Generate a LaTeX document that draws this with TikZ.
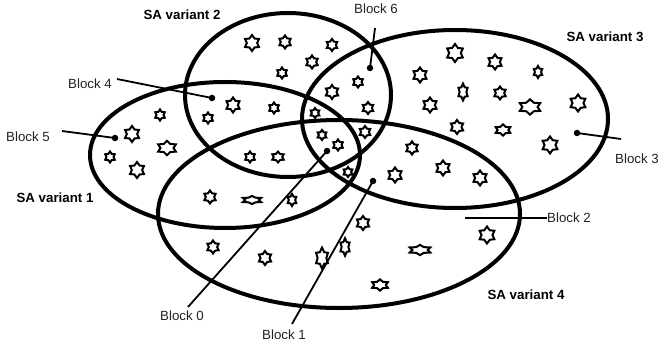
\documentclass[tikz,border=0pt]{standalone}
\usepackage{fontspec}
\setmainfont{Liberation Sans}
\usepackage{tikz}
\usetikzlibrary{shapes.geometric}
\definecolor{InkBlack}{HTML}{000000}
\definecolor{LabelGray}{HTML}{222222}
\tikzset{
  % Outline styles
  setline/.style={draw=InkBlack, line width=4pt},
  leaderline/.style={draw=InkBlack, line width=1.8pt},
  % Node styles
  hexstar/.style={star, star points=6, star point ratio=1.55, draw=InkBlack, line width=2pt, inner sep=0pt, transform shape},
  blockdot/.style={circle, fill=InkBlack, inner sep=0pt, minimum size=6.5pt},
  blocklabel/.style={font=\fontsize{13.3}{16}\selectfont, text=LabelGray, inner sep=0pt},
  setlabel/.style={font=\fontsize{13.3}{16}\selectfont\bfseries, text=InkBlack, inner sep=0pt}
}

\begin{document}
\begin{tikzpicture}[x=1pt, y=-1pt]
  \useasboundingbox (0,0) rectangle (660,347);

  % The four variant sets
  \draw[setline] (225,155) ellipse (135pt and 73pt);
  \draw[setline] (288,95) ellipse (103pt and 82pt);
  \draw[setline] (455,119) ellipse (153pt and 89pt);
  \draw[setline] (339,214) ellipse (181pt and 94pt);

  % Stars (x/y/size/xscale/yscale)
  \foreach \x/\y/\s/\sx/\sy in {
    252/43/16/1/1, 285/42/13/1/1, 312/62/13/1/1, 282/73/11/1/1,
    332/45/12/1/1, 358/82/11/1/1, 332/92/14/1/1, 368/108/12/1/1,
    233/105/15/1/1, 274/108/11/1/1, 208/118/11/1/1, 250/157/11/1/1,
    278/157/12/1.1/0.9,
    160/115/11/1/1, 132/134/16/1/1, 167/148/17/1.2/0.85, 110/157/11/1/1,
    137/170/16/1/1,
    315/113/10/1/1, 322/135/10/1/1, 338/145/11/1/1, 365/132/12/1/1,
    348/172/10/1/1,
    455/53/18/1/1, 495/62/15/1/1, 538/72/12/0.8/1, 420/75/15/1/1,
    463/92/14/0.75/1.2, 500/93/13/1/1, 430/105/15/1/1, 530/107/18/1.3/0.85,
    578/103/17/1/1, 457/127/14/1/1, 503/130/14/1.2/0.8, 550/145/17/1/1,
    412/148/13/1/1, 443/168/15/1/1, 395/175/15/1/1, 480/178/15/1/1,
    210/197/13/1/1, 252/200/15/1.4/0.55, 292/200/11/0.9/1.1,
    213/247/13/1/1, 265/258/14/1/1, 322/258/16/0.85/1.3, 345/247/14/0.75/1.25,
    363/223/14/1/1, 420/250/17/1.4/0.6, 487/235/17/1/1, 380/285/15/1.2/0.75
  } {
    \node[hexstar, minimum size=\s pt, xscale=\sx, yscale=\sy] at (\x,\y) {};
  }

  % Block dots
  \node[blockdot] (d0) at (327,151) {};
  \node[blockdot] (d1) at (373,181) {};
  \node[blockdot] (d3) at (577,133) {};
  \node[blockdot] (d4) at (212,98) {};
  \node[blockdot] (d5) at (115,138) {};
  \node[blockdot] (d6) at (370,68) {};
  \coordinate (d2) at (465,218);

  % Labels
  \node[blocklabel] (b0) at (182,316) {Block 0};
  \node[blocklabel] (b1) at (284,335) {Block 1};
  \node[blocklabel, anchor=west] (b2) at (547,218) {Block 2};
  \node[blocklabel] (b3) at (637,159) {Block 3};
  \node[blocklabel] (b4) at (90,84) {Block 4};
  \node[blocklabel] (b5) at (28,137) {Block 5};
  \node[blocklabel] (b6) at (376,9) {Block 6};
  \node[setlabel] (v1) at (55,198) {SA variant 1};
  \node[setlabel] (v2) at (182,15) {SA variant 2};
  \node[setlabel] (v3) at (605,37) {SA variant 3};
  \node[setlabel] (v4) at (526,295) {SA variant 4};

  % Leader line ends
  \coordinate (e0) at (188,307);
  \coordinate (e1) at (292,324);
  \coordinate (e3) at (621,139);
  \coordinate (e4) at (117,79);
  \coordinate (e5) at (62,131);
  \coordinate (e6) at (375,28);

  % Leader lines
  \draw[leaderline] (d0.center) -- (e0);
  \draw[leaderline] (d1.center) -- (e1);
  \draw[leaderline] (d2) -- (b2.west);
  \draw[leaderline] (d3.center) -- (e3);
  \draw[leaderline] (d4.center) -- (e4);
  \draw[leaderline] (d5.center) -- (e5);
  \draw[leaderline] (d6.center) -- (e6);
\end{tikzpicture}
\end{document}
